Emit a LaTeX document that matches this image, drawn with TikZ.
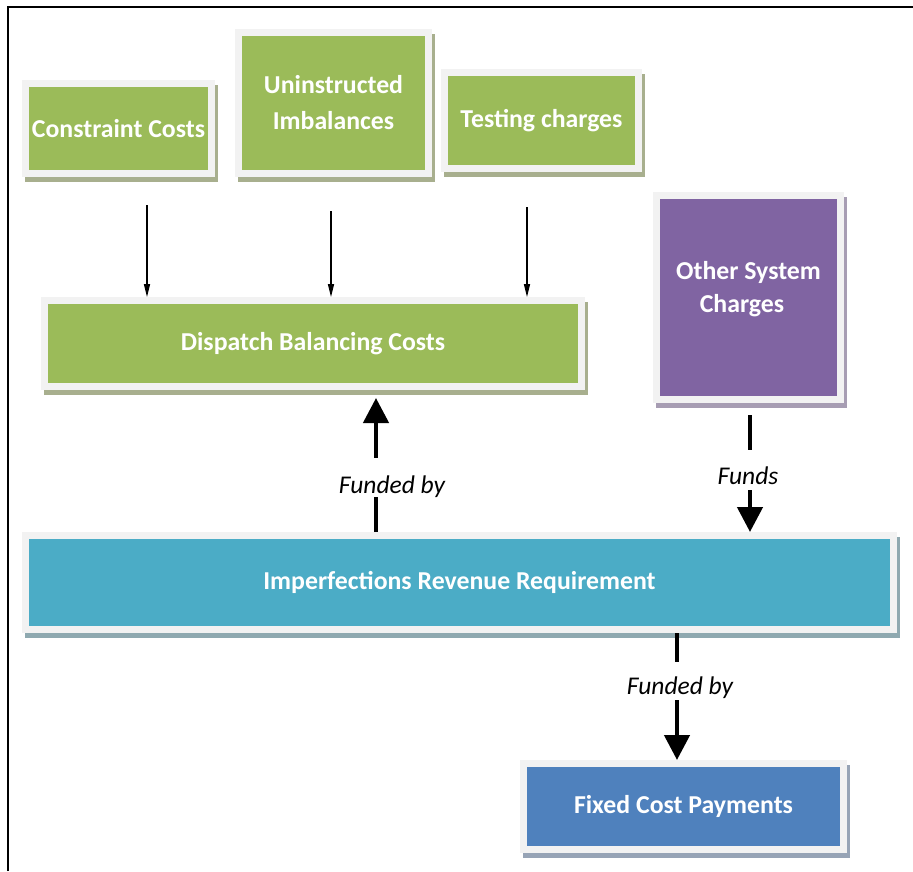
\documentclass[tikz,border=0pt]{standalone}
\usepackage{fontspec}
\setmainfont{Carlito}
\usetikzlibrary{arrows.meta,calc,backgrounds}
\definecolor{cgreen}{HTML}{9BBB59}
\definecolor{cpurple}{HTML}{8064A2}
\definecolor{cteal}{HTML}{4BACC6}
\definecolor{cblue}{HTML}{4F81BD}
\definecolor{cframe}{HTML}{F2F2F2}
\definecolor{sgreen}{HTML}{A8AF8E}
\definecolor{spurple}{HTML}{A79DB3}
\definecolor{steal}{HTML}{8FA9B0}
\definecolor{sblue}{HTML}{97A4B6}
\tikzset{
  box/.style={draw=cframe, line width=7pt, text=white, align=center,
    font=\fontsize{25.8}{36}\selectfont\bfseries, inner sep=0pt},
  thinarr/.style={line width=1.3pt, -{Triangle[width=6pt,length=13pt]}},
  thickarr/.style={line width=4.5pt, -{Triangle[width=25pt,length=25pt]}},
  lbl/.style={fill=white, font=\fontsize{25.5}{28}\selectfont\itshape, inner xsep=1pt, inner ysep=0pt}
}
\newcommand{\boxshadow}[2]{\fill[#2] ($(#1.north west)+(3,5)$) rectangle ($(#1.south east)+(3,5)$);}
\begin{document}
\begin{tikzpicture}[x=1pt,y=-1pt]
\useasboundingbox (0,0) rectangle (913,871);
\draw[line width=2pt] (8,871) -- (8,7) -- (913,7);

\node[box, fill=cgreen, minimum width=186pt, minimum height=90pt] (cc) at (118.5,128.5) {Constraint Costs};
\node[box, fill=cgreen, minimum width=190pt, minimum height=141pt] (ui) at (333.5,103) {Uninstructed\\Imbalances};
\node[box, fill=cgreen, minimum width=194pt, minimum height=96pt] (tc) at (541.5,120.5) {Testing charges};
\node[box, fill=cgreen, minimum width=537pt, minimum height=86pt] (dbc) at (313,343.5) {Dispatch Balancing Costs};
\node[box, fill=cpurple, minimum width=184pt, minimum height=204pt, font=\fontsize{25.8}{33}\selectfont\bfseries] (osc) at (748.5,297.5) {Other System\\Charges\kern13pt\\[-12pt]};
\node[box, fill=cteal, minimum width=868pt, minimum height=94pt] (irr) at (459.5,582.5) {Imperfections Revenue Requirement};
\node[box, fill=cblue, minimum width=320pt, minimum height=86pt] (fcp) at (683.5,806.5) {Fixed Cost Payments};

\begin{scope}[on background layer]
\boxshadow{cc}{sgreen}
\boxshadow{ui}{sgreen}
\boxshadow{tc}{sgreen}
\boxshadow{dbc}{sgreen}
\boxshadow{osc}{spurple}
\boxshadow{irr}{steal}
\boxshadow{fcp}{sblue}
\end{scope}

\coordinate (t1) at ($(cc.south)+(28.5,28)$);
\coordinate (t2) at ($(ui.south)+(-2.5,34)$);
\coordinate (t3) at ($(tc.south)+(-14.5,35)$);
\draw[thinarr] (t1) -- (t1 |- dbc.north);
\draw[thinarr] (t2) -- (t2 |- dbc.north);
\draw[thinarr] (t3) -- (t3 |- dbc.north);

\coordinate (u1) at ($(irr.north)+(-83.5,0)$);
\draw[thickarr, shorten >=8pt] (u1) -- (u1 |- dbc.south) node[lbl, pos=0.384, xshift=16pt, text height=36pt, text depth=3pt] {Funded by};
\coordinate (u2) at ($(osc.south)+(1.5,12)$);
\draw[thickarr] (u2) -- (u2 |- irr.north) node[lbl, pos=0.47, xshift=-2pt, text height=35pt, text depth=5pt] {Funds};
\coordinate (u3) at ($(irr.south)+(217.5,0)$);
\draw[thickarr] (u3) -- (u3 |- fcp.north) node[lbl, pos=0.378, xshift=3pt, text height=32pt, text depth=6pt] {Funded by};
\end{tikzpicture}
\end{document}
